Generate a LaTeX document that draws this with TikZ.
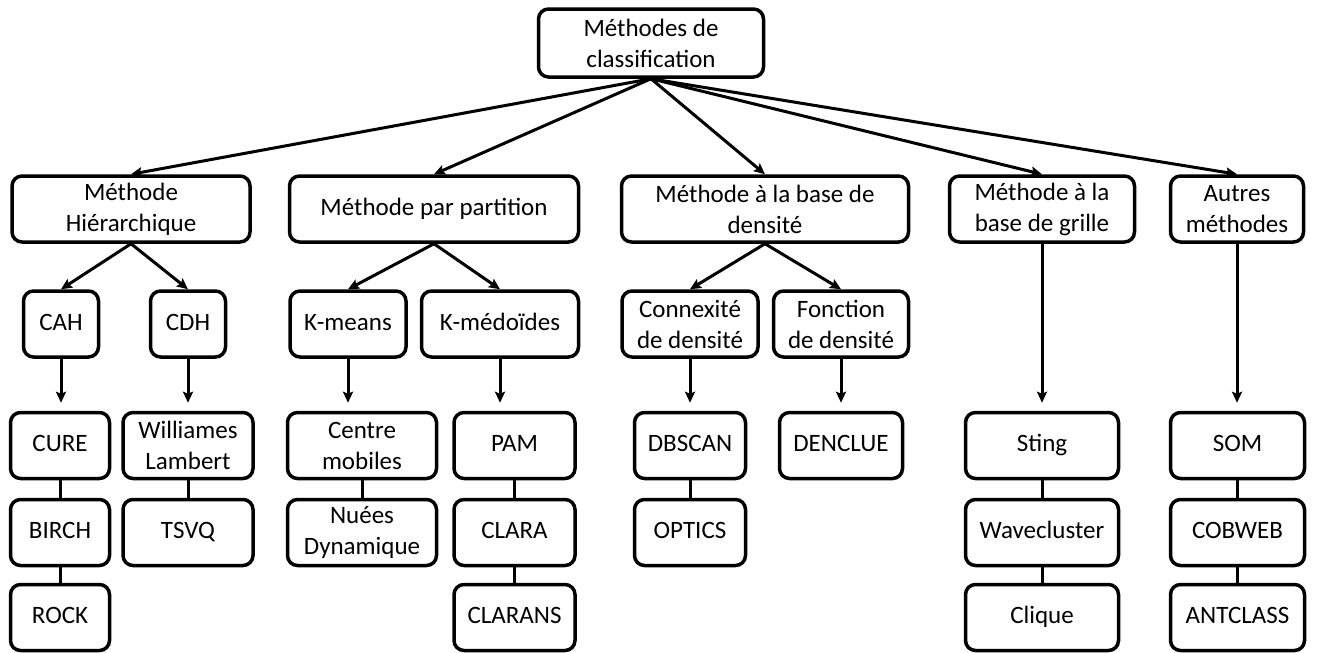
\documentclass[tikz,border=0pt]{standalone}
\usepackage{fontspec}
\setmainfont{Carlito}
\usetikzlibrary{arrows.meta}

\begin{document}
\begin{tikzpicture}[x=1pt,y=-1pt,>={Stealth[length=11pt,width=10pt,inset=2pt]},
  box/.style={draw, line width=3.5pt, rounded corners=10pt, align=center,
    inner sep=2pt, minimum height=66pt, font=\fontsize{25}{31}\selectfont},
  one/.style={box, text height=17pt, text depth=5pt},
  link/.style={line width=3pt}]

\useasboundingbox (0,0) rectangle (1317,653);

%%%%%%%%%%%%%%%%%%%%%%%%%%%%%%%%%%%%%%%%%%
  % Root
  \node[box, minimum width=225pt, minimum height=68pt] (root) at (651,43) {Méthodes de\\classification};

  % Families
  \node[box, minimum width=238pt] (hier)   at (131,209)  {Méthode\\Hiérarchique};
  \node[one, minimum width=289pt] (part)   at (434,209)  {Méthode par partition};
  \node[box, minimum width=287pt] (dens)   at (765,209)  {Méthode à la base de\\densité};
  \node[box, minimum width=185pt] (grille) at (1042,209) {Méthode à la\\base de grille};
  \node[box, minimum width=133pt] (autres) at (1237,209) {Autres\\méthodes};

  % Sub-families
  \node[one, minimum width=75pt]  (cah)    at (61,324)  {CAH};
  \node[one, minimum width=75pt]  (cdh)    at (188,324) {CDH};
  \node[one, minimum width=116pt] (kmeans) at (348,324) {K-means};
  \node[one, minimum width=157pt] (kmed)   at (500,324) {K-médoïdes};
  \node[box, minimum width=136pt] (connex) at (690,324) {Connexité\\de densité};
  \node[box, minimum width=135pt] (fonct)  at (841,324) {Fonction\\de densité};

%%%%%%%%%%%%%%%%%%%%%%%%%%%%%%%%%%%%%%%%%%
  % Algorithms, first row
  \node[one, minimum width=99pt]  (cure)    at (60,445.5)   {CURE};
  \node[box, minimum width=130pt] (willi)   at (188,445.5)  {Williames\\Lambert};
  \node[box, minimum width=149pt] (centre)  at (362,445.5)  {Centre\\mobiles};
  \node[one, minimum width=121pt] (pam)     at (514.5,445.5){PAM};
  \node[one, minimum width=111pt] (dbscan)  at (690,445.5)  {DBSCAN};
  \node[one, minimum width=123pt] (denclue) at (841,445.5)  {DENCLUE};
  \node[one, minimum width=153pt] (sting)   at (1042,445.5) {Sting};
  \node[one, minimum width=134pt] (som)     at (1237.5,445.5) {SOM};

  % Second row
  \node[one, minimum width=99pt]  (birch)  at (60,532.5)   {BIRCH};
  \node[one, minimum width=130pt] (tsvq)   at (188,532.5)  {TSVQ};
  \node[box, minimum width=149pt] (nuees)  at (362,532.5)  {Nuées\\Dynamique};
  \node[one, minimum width=121pt] (clara)  at (514.5,532.5){CLARA};
  \node[one, minimum width=111pt] (optics) at (690,532.5)  {OPTICS};
  \node[one, minimum width=153pt] (wave)   at (1042,532.5) {Wavecluster};
  \node[one, minimum width=134pt] (cobweb) at (1237.5,532.5) {COBWEB};

  % Third row
  \node[one, minimum width=99pt]  (rock)     at (60,617.5)    {ROCK};
  \node[one, minimum width=121pt] (clarans)  at (514.5,617.5) {CLARANS};
  \node[one, minimum width=153pt] (clique)   at (1042,617.5)  {Clique};
  \node[one, minimum width=134pt] (antclass) at (1237.5,617.5){ANTCLASS};

%%%%%%%%%%%%%%%%%%%%%%%%%%%%%%%%%%%%%%%%%%
  % Arrows from the root
  \foreach \n in {hier,part,dens,grille,autres}
    \draw[link,->] (root.south) -- (\n.north);

  % Arrows to sub-families
  \foreach \a/\b in {hier/cah,hier/cdh,part/kmeans,part/kmed,dens/connex,dens/fonct}
    \draw[link,->] (\a.south) -- (\b.north);

  % Vertical arrows to the algorithms
  \foreach \a/\b in {cah/cure,cdh/willi,kmeans/centre,kmed/pam,connex/dbscan,fonct/denclue,grille/sting,autres/som}
    \draw[link,->,shorten >=8pt] (\a.south) -- (\a.south |- \b.north);

  % Plain links between algorithms
  \foreach \a/\b in {cure/birch,birch/rock,willi/tsvq,centre/nuees,pam/clara,clara/clarans,dbscan/optics,sting/wave,wave/clique,som/cobweb,cobweb/antclass}
    \draw[link] (\a) -- (\b);

\end{tikzpicture}
\end{document}
